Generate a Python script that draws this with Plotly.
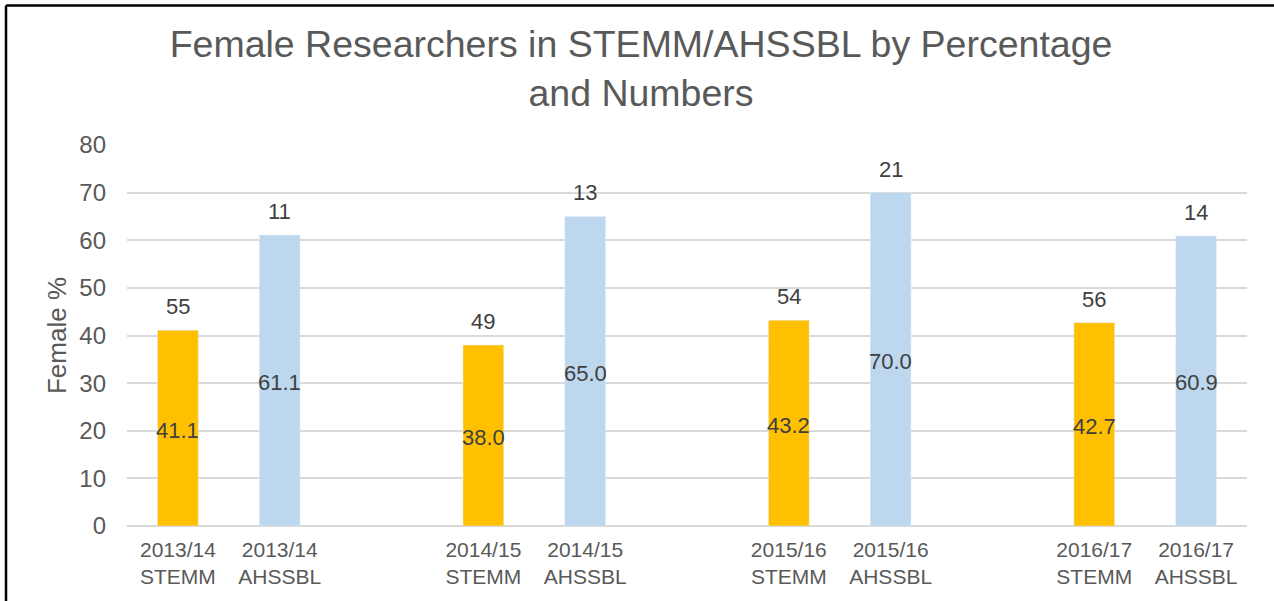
import plotly.graph_objects as go

# Female share (%) and head counts per academic year
years = ["2013/14", "2014/15", "2015/16", "2016/17"]
groups = ["STEMM", "AHSSBL"]
stemm_pct = [41.1, 38.0, 43.2, 42.7]
ahssbl_pct = [61.1, 65.0, 70.0, 60.9]
stemm_n = [55, 49, 54, 56]
ahssbl_n = [11, 13, 21, 14]

y_ticks = [0, 10, 20, 30, 40, 50, 60, 70, 80]

STEMM_COLOR = "#FFC000"
AHSSBL_COLOR = "#BDD7EE"
AXIS_TEXT = "#595959"
LABEL_TEXT = "#404040"
GRID = "#D9D9D9"
FONT = "Liberation Sans, Arial, sans-serif"

W, H = 1274, 601
ML, MR, MT, MB = 127, 27, 145, 75

# three slots per year: STEMM, AHSSBL, spacer
stemm_x = [3 * i for i in range(len(years))]
ahssbl_x = [3 * i + 1 for i in range(len(years))]

fig = go.Figure()
fig.add_trace(go.Bar(x=stemm_x, y=stemm_pct, width=0.4, marker_color=STEMM_COLOR,
                     name=groups[0], hoverinfo="y"))
fig.add_trace(go.Bar(x=ahssbl_x, y=ahssbl_pct, width=0.4, marker_color=AHSSBL_COLOR,
                     name=groups[1], hoverinfo="y"))

annotations = []
for xs, pcts, counts in ((stemm_x, stemm_pct, stemm_n), (ahssbl_x, ahssbl_pct, ahssbl_n)):
    for x, p, n in zip(xs, pcts, counts):
        # percentage centred inside the bar
        annotations.append(dict(x=x, y=p / 2, text=f"{p:.1f}", showarrow=False,
                                xanchor="center", yanchor="middle", yshift=-2,
                                font=dict(size=22, color=LABEL_TEXT, family=FONT)))
        # head count above the bar
        annotations.append(dict(x=x, y=p, text=str(n), showarrow=False,
                                xanchor="center", yanchor="bottom", yshift=9,
                                font=dict(size=22, color=LABEL_TEXT, family=FONT)))

tick_vals = stemm_x + ahssbl_x
tick_text = [f"{y}<br>{groups[0]}" for y in years] + [f"{y}<br>{groups[1]}" for y in years]

# outer frame of the chart area (left and top edges)
pw = W - ML - MR
ph = H - MT - MB
fx = (6 - ML) / pw
fy = (H - MB - 5.5) / ph
shapes = [
    dict(type="line", xref="paper", yref="paper", x0=fx, x1=fx, y0=fy, y1=-1,
         line=dict(color="black", width=2.5)),
    dict(type="line", xref="paper", yref="paper", x0=fx, x1=2, y0=fy, y1=fy,
         line=dict(color="black", width=2.5)),
]

fig.update_layout(
    width=W, height=H,
    margin=dict(l=ML, r=MR, t=MT, b=MB, pad=0),
    paper_bgcolor="white", plot_bgcolor="white",
    showlegend=False,
    font=dict(family=FONT, color=AXIS_TEXT),
    title=dict(text="Female Researchers in STEMM/AHSSBL by Percentage<br>and Numbers",
               x=641 / W, xanchor="center", y=1 - 57 / H, yanchor="top", yref="container",
               font=dict(size=37.5, color=AXIS_TEXT, family=FONT)),
    xaxis=dict(range=[-0.5, 10.5], tickmode="array", tickvals=tick_vals, ticktext=tick_text,
               tickfont=dict(size=21, color=AXIS_TEXT), showgrid=False, zeroline=False,
               showline=False, ticks="", ticklabelstandoff=9),
    yaxis=dict(range=[0, 80], tickmode="array", tickvals=y_ticks,
               tickfont=dict(size=24, color=AXIS_TEXT), showgrid=True, gridcolor=GRID,
               gridwidth=2, zeroline=True, zerolinecolor=GRID, zerolinewidth=2,
               showline=False, ticks="", ticklabelstandoff=20,
               title=dict(text="Female %", standoff=5,
                          font=dict(size=26, color=AXIS_TEXT, family=FONT))),
    annotations=annotations,
    shapes=shapes,
)

fig.write_html("out.html")
